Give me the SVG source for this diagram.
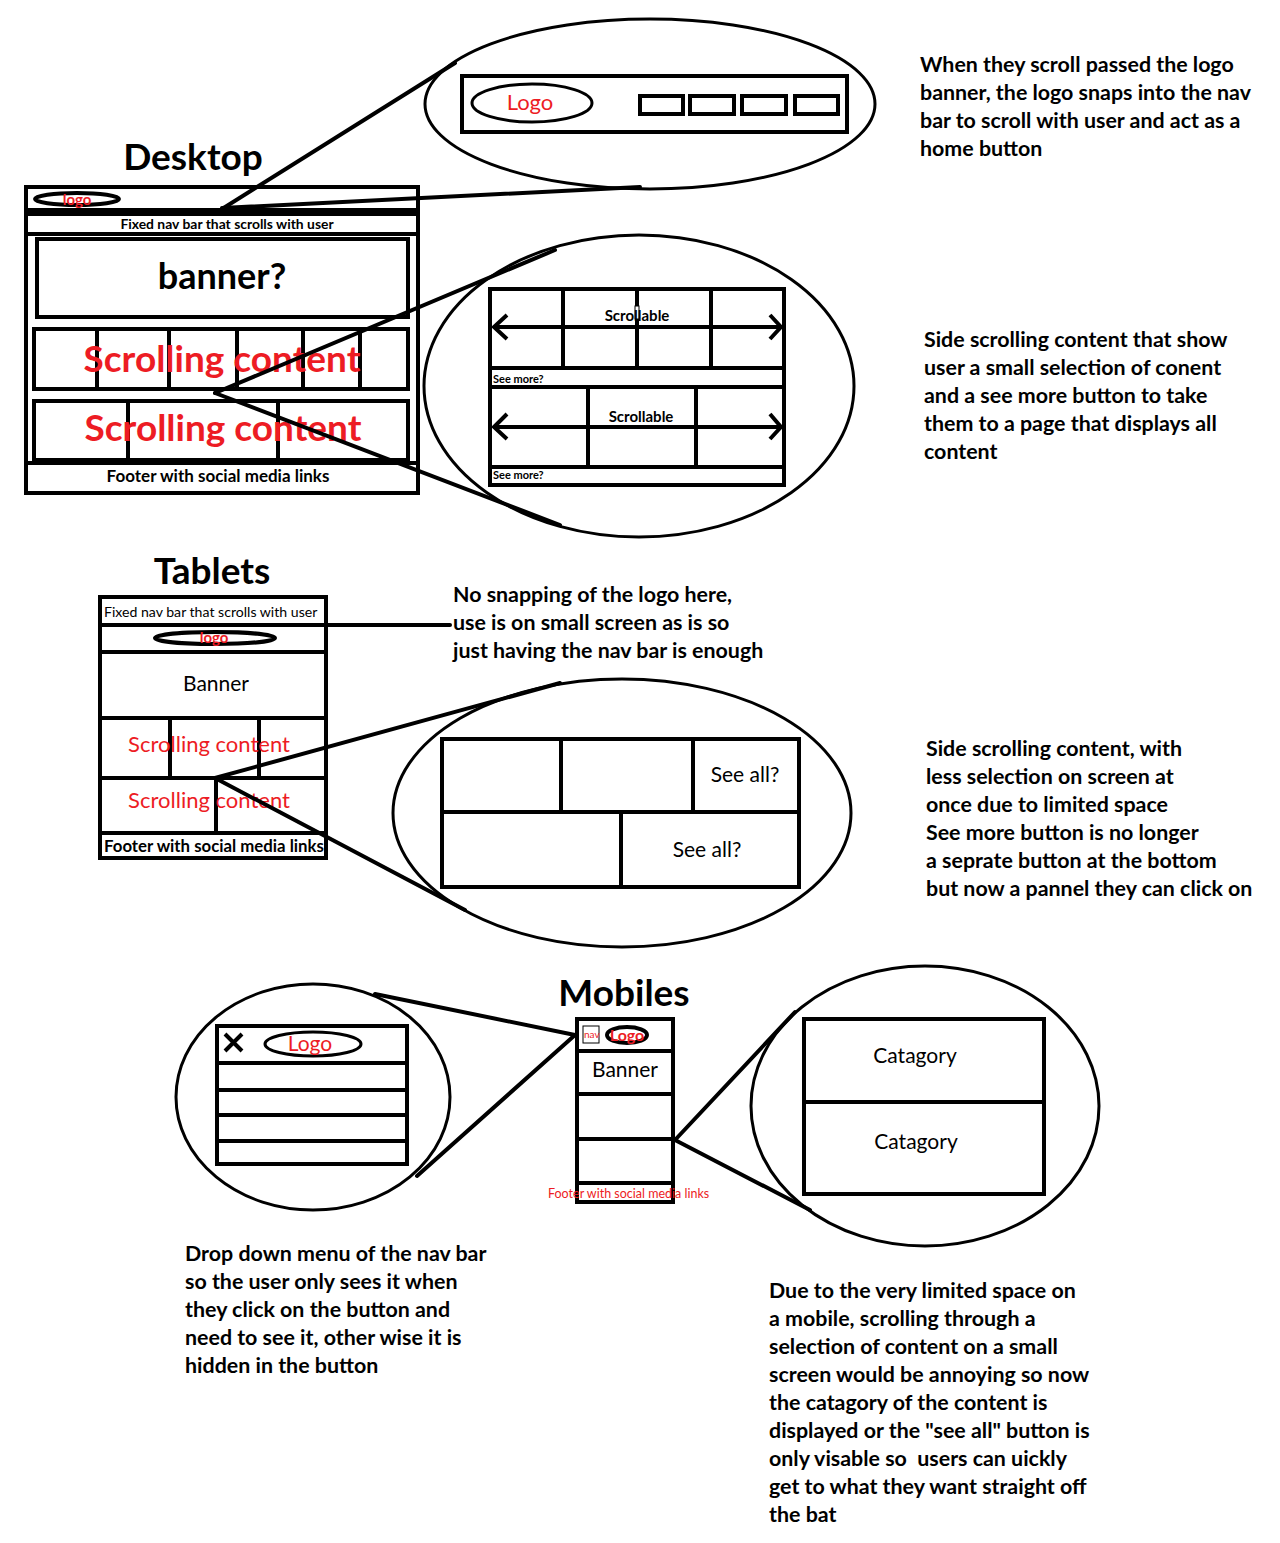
<svg xmlns="http://www.w3.org/2000/svg" width="1280" height="1543" viewBox="0 0 1280 1543">
<style>
.bg{fill:#fff}
.k{fill:none;stroke:#000;stroke-width:4}
.k3{fill:none;stroke:#000;stroke-width:3}
.t{font-family:Lato,"Liberation Sans",sans-serif;fill:#000}
.b{font-weight:bold}
.r{fill:#ed1c24}
.note{font-family:Lato,"Liberation Sans",sans-serif;font-size:21.4px;fill:#000;font-weight:bold}
.title{font-family:Lato,"Liberation Sans",sans-serif;font-size:37px;font-weight:bold;fill:#000;text-anchor:middle}
.c{text-anchor:middle}
</style>
<rect class="bg" x="0" y="0" width="1280" height="1543"/>

<!-- Titles -->
<text class="title" x="193" y="170">Desktop</text>
<text class="title" x="212" y="584">Tablets</text>
<text class="title" x="624" y="1006">Mobiles</text>

<!-- Desktop wireframe -->
<g id="desktop">
<rect class="k" x="26" y="187" width="392" height="306"/>
<line class="k" x1="26" y1="210" x2="418" y2="210"/>
<line class="k" x1="28" y1="234" x2="416" y2="234"/>
<line class="k" x1="28" y1="214" x2="416" y2="214"/>
<ellipse class="k" cx="77" cy="199" rx="42" ry="6"/>
<text class="t b r c" x="77" y="205" font-size="15">logo</text>
<text class="t b c" x="227" y="229" font-size="13.9">Fixed nav bar that scrolls with user</text>
<rect class="k" x="37" y="239" width="371" height="78"/>
<text class="t b c" x="222" y="289" font-size="36">banner?</text>
<rect class="k" x="34" y="329" width="374" height="60"/>
<line class="k" x1="97" y1="329" x2="97" y2="389"/>
<line class="k" x1="169" y1="329" x2="169" y2="389"/>
<line class="k" x1="237" y1="329" x2="237" y2="389"/>
<line class="k" x1="303" y1="329" x2="303" y2="389"/>
<line class="k" x1="360" y1="329" x2="360" y2="389"/>
<text class="t b r c" x="222" y="372" font-size="37">Scrolling content</text>
<rect class="k" x="34" y="401" width="374" height="59"/>
<line class="k" x1="128" y1="401" x2="128" y2="460"/>
<line class="k" x1="278" y1="401" x2="278" y2="460"/>
<text class="t b r c" x="223" y="441" font-size="37">Scrolling content</text>
<line class="k" x1="26" y1="463" x2="418" y2="463"/>
<text class="t b c" x="218" y="482" font-size="17">Footer with social media links</text>
</g>

<!-- Desktop zoom: logo nav -->
<g id="desktop-logo-zoom">
<ellipse class="k3" cx="650" cy="104" rx="225" ry="85"/>
<rect class="k" x="462" y="76" width="385" height="56"/>
<ellipse class="k3" cx="532" cy="103" rx="60" ry="19"/>
<text class="t r c" x="530" y="110" font-size="22">Logo</text>
<rect class="k" x="640" y="96" width="43" height="18"/>
<rect class="k" x="690" y="96" width="44" height="18"/>
<rect class="k" x="742" y="96" width="44" height="18"/>
<rect class="k" x="795" y="96" width="43" height="18"/>
</g>

<!-- Desktop zoom: scrollable -->
<g id="desktop-scroll-zoom">
<ellipse class="k3" cx="639" cy="386" rx="215" ry="151"/>
<rect class="k" x="490" y="289" width="294" height="196"/>
<line class="k" x1="490" y1="368" x2="784" y2="368"/>
<line class="k" x1="490" y1="387" x2="784" y2="387"/>
<line class="k" x1="490" y1="467" x2="784" y2="467"/>
<line class="k" x1="563" y1="289" x2="563" y2="368"/>
<line class="k" x1="637" y1="289" x2="637" y2="306"/>
<line class="k" x1="637" y1="318" x2="637" y2="368"/>
<rect x="635" y="306" width="4" height="13" fill="#fff" stroke="#000" stroke-width="1"/>
<line class="k" x1="711" y1="289" x2="711" y2="368"/>
<line class="k" x1="588" y1="387" x2="588" y2="467"/>
<line class="k" x1="696" y1="387" x2="696" y2="467"/>
<line class="k" x1="493" y1="327" x2="781" y2="327"/>
<line class="k" x1="493" y1="427" x2="781" y2="427"/>
<polyline class="k" points="507,315 494,327 507,339"/>
<polyline class="k" points="770,315 781,327 770,339"/>
<polyline class="k" points="507,414 494,427 507,439"/>
<polyline class="k" points="770,414 781,427 770,439"/>
<text class="t b c" x="637" y="321" font-size="15">Scrollable</text>
<text class="t b c" x="641" y="422" font-size="15">Scrollable</text>
<text class="t b" x="493" y="383" font-size="11">See more?</text>
<text class="t b" x="493" y="479" font-size="11">See more?</text>
</g>

<!-- Tablet wireframe -->
<g id="tablet">
<rect class="k" x="100" y="597" width="226" height="261"/>
<line class="k" x1="100" y1="625" x2="326" y2="625"/>
<line class="k" x1="100" y1="652" x2="326" y2="652"/>
<line class="k" x1="100" y1="718" x2="326" y2="718"/>
<line class="k" x1="100" y1="778" x2="326" y2="778"/>
<line class="k" x1="100" y1="833" x2="326" y2="833"/>
<line class="k" x1="170" y1="718" x2="170" y2="778"/>
<line class="k" x1="259" y1="718" x2="259" y2="778"/>
<line class="k" x1="216" y1="778" x2="216" y2="833"/>
<text class="t" x="104" y="617" font-size="14.1">Fixed nav bar that scrolls with user</text>
<ellipse class="k" cx="215" cy="638" rx="60" ry="6"/>
<text class="t b r c" x="214" y="643" font-size="15">logo</text>
<text class="t c" x="216" y="691" font-size="21">Banner</text>
<text class="t r c" x="209" y="752" font-size="22">Scrolling content</text>
<text class="t r c" x="209" y="808" font-size="22">Scrolling content</text>
<text class="t b" x="104" y="852" font-size="16.8">Footer with social media links</text>
</g>

<!-- Tablet zoom -->
<g id="tablet-zoom">
<ellipse class="k3" cx="622" cy="813" rx="229" ry="134"/>
<rect class="k" x="442" y="739" width="357" height="148"/>
<line class="k" x1="442" y1="812" x2="799" y2="812"/>
<line class="k" x1="561" y1="739" x2="561" y2="812"/>
<line class="k" x1="693" y1="739" x2="693" y2="812"/>
<line class="k" x1="621" y1="812" x2="621" y2="887"/>
<text class="t c" x="745" y="782" font-size="21">See all?</text>
<text class="t c" x="707" y="857" font-size="21">See all?</text>
</g>

<!-- Mobile wireframe -->
<g id="mobile">
<rect class="k" x="577" y="1019" width="96" height="183"/>
<line class="k" x1="577" y1="1051" x2="673" y2="1051"/>
<line class="k" x1="577" y1="1094" x2="673" y2="1094"/>
<line class="k" x1="577" y1="1139" x2="673" y2="1139"/>
<line class="k" x1="577" y1="1183" x2="673" y2="1183"/>
<rect x="583" y="1026" width="16" height="17" fill="none" stroke="#000" stroke-width="1"/>
<text class="t r" x="584" y="1038" font-size="10">nav</text>
<ellipse class="k" cx="627" cy="1035" rx="20" ry="8"/>
<text class="t b r c" x="627" y="1041" font-size="16">Logo</text>
<text class="t c" x="625" y="1077" font-size="21">Banner</text>
<text class="t r" x="548" y="1198" font-size="12.5">Footer with social media links</text>
</g>

<!-- Mobile zoom: nav -->
<g id="mobile-nav-zoom">
<ellipse class="k3" cx="313" cy="1097" rx="137" ry="113"/>
<rect class="k" x="217" y="1026" width="190" height="138"/>
<line class="k" x1="217" y1="1063" x2="407" y2="1063"/>
<line class="k" x1="217" y1="1090" x2="407" y2="1090"/>
<line class="k" x1="217" y1="1115" x2="407" y2="1115"/>
<line class="k" x1="217" y1="1141" x2="407" y2="1141"/>
<path class="k" d="M225,1034 L242,1051 M242,1034 L225,1051"/>
<ellipse class="k3" cx="313" cy="1044" rx="48" ry="12"/>
<text class="t r c" x="310" y="1051" font-size="21">Logo</text>
</g>

<!-- Mobile zoom: category -->
<g id="mobile-cat-zoom">
<ellipse class="k3" cx="925" cy="1106" rx="174" ry="140"/>
<rect class="k" x="804" y="1019" width="240" height="175"/>
<line class="k" x1="804" y1="1102" x2="1044" y2="1102"/>
<text class="t c" x="915" y="1063" font-size="21">Catagory</text>
<text class="t c" x="916" y="1149" font-size="21">Catagory</text>
</g>

<!-- Connectors -->
<g id="connectors" fill="none" stroke="#000" stroke-width="4" stroke-linecap="round">
<line x1="222" y1="209" x2="455" y2="63"/>
<line x1="222" y1="208" x2="640" y2="187"/>
<line x1="215" y1="393" x2="555" y2="250"/>
<line x1="215" y1="393" x2="560" y2="525"/>
<line x1="328" y1="625" x2="450" y2="625"/>
<line x1="215" y1="778" x2="560" y2="683"/>
<line x1="215" y1="778" x2="465" y2="910"/>
<line x1="575" y1="1035" x2="375" y2="994"/>
<line x1="575" y1="1035" x2="417" y2="1176"/>
<line x1="675" y1="1140" x2="795" y2="1012"/>
<line x1="675" y1="1140" x2="810" y2="1210"/>
</g>

<!-- Notes -->
<text class="note" x="920" y="72">When they scroll passed the logo</text>
<text class="note" x="920" y="100">banner, the logo snaps into the nav</text>
<text class="note" x="920" y="128">bar to scroll with user and act as a</text>
<text class="note" x="920" y="156">home button</text>

<text class="note" x="924" y="347">Side scrolling content that show</text>
<text class="note" x="924" y="375">user a small selection of conent</text>
<text class="note" x="924" y="403">and a see more button to take</text>
<text class="note" x="924" y="431">them to a page that displays all</text>
<text class="note" x="924" y="459">content</text>

<text class="note" x="453" y="602">No snapping of the logo here,</text>
<text class="note" x="453" y="630">use is on small screen as is so</text>
<text class="note" x="453" y="658">just having the nav bar is enough</text>

<text class="note" x="926" y="756">Side scrolling content, with</text>
<text class="note" x="926" y="784">less selection on screen at</text>
<text class="note" x="926" y="812">once due to limited space</text>
<text class="note" x="926" y="840">See more button is no longer</text>
<text class="note" x="926" y="868">a seprate button at the bottom</text>
<text class="note" x="926" y="896">but now a pannel they can click on</text>

<text class="note" x="185" y="1261">Drop down menu of the nav bar</text>
<text class="note" x="185" y="1289">so the user only sees it when</text>
<text class="note" x="185" y="1317">they click on the button and</text>
<text class="note" x="185" y="1345">need to see it, other wise it is</text>
<text class="note" x="185" y="1373">hidden in the button</text>

<text class="note" x="769" y="1298">Due to the very limited space on</text>
<text class="note" x="769" y="1326">a mobile, scrolling through a</text>
<text class="note" x="769" y="1354">selection of content on a small</text>
<text class="note" x="769" y="1382">screen would be annoying so now</text>
<text class="note" x="769" y="1410">the catagory of the content is</text>
<text class="note" x="769" y="1438">displayed or the "see all" button is</text>
<text class="note" x="769" y="1466" xml:space="preserve">only visable so  users can uickly</text>
<text class="note" x="769" y="1494">get to what they want straight off</text>
<text class="note" x="769" y="1522">the bat</text>
</svg>
